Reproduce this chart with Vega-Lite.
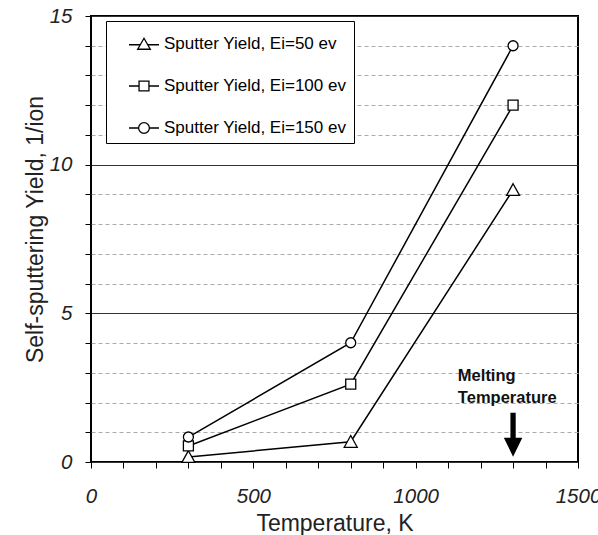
{
  "$schema": "https://vega.github.io/schema/vega-lite/v6.json",
  "width": 487,
  "height": 446,
  "autosize": "none",
  "padding": {"left": 91, "top": 16, "right": 20, "bottom": 73},
  "background": "white",
  "config": {
    "font": "Liberation Sans",
    "view": {"stroke": "black", "strokeWidth": 2},
    "axis": {
      "domain": false,
      "tickColor": "black",
      "tickSize": 6,
      "tickWidth": 1,
      "labelFont": "Liberation Sans",
      "labelFontStyle": "italic",
      "labelFontSize": 20.5,
      "labelColor": "#222",
      "titleFont": "Liberation Sans",
      "titleFontSize": 23,
      "titleFontWeight": "normal",
      "titleColor": "#222"
    }
  },
  "datasets": {
    "series": [
      {"T": 300, "Y": 0.17, "series": "Sputter Yield, Ei=50 ev"},
      {"T": 800, "Y": 0.68, "series": "Sputter Yield, Ei=50 ev"},
      {"T": 1300, "Y": 9.15, "series": "Sputter Yield, Ei=50 ev"},
      {"T": 300, "Y": 0.54, "series": "Sputter Yield, Ei=100 ev"},
      {"T": 800, "Y": 2.62, "series": "Sputter Yield, Ei=100 ev"},
      {"T": 1300, "Y": 12.0, "series": "Sputter Yield, Ei=100 ev"},
      {"T": 300, "Y": 0.84, "series": "Sputter Yield, Ei=150 ev"},
      {"T": 800, "Y": 4.01, "series": "Sputter Yield, Ei=150 ev"},
      {"T": 1300, "Y": 14.0, "series": "Sputter Yield, Ei=150 ev"}
    ],
    "notes": [
      {"T": 1130, "Y": 2.88, "label": "Melting"},
      {"T": 1130, "Y": 2.15, "label": "Temperature"}
    ],
    "arrow": [
      {"T": 1300, "Y": 0.92}
    ]
  },
  "encoding": {
    "x": {"field": "T", "type": "quantitative", "scale": {"domain": [0, 1500], "nice": false},
      "axis": {"title": "Temperature, K", "values": [0,100,200,300,400,500,600,700,800,900,1000,1100,1200,1300,1400,1500],
        "format": "d",
        "labelExpr": "datum.value % 500 === 0 ? datum.label : ''", "labelPadding": 18, "labelFlush": false, "labelOverlap": false,
        "titleY": 68, "titleBaseline": "alphabetic", "grid": false}},
    "y": {"field": "Y", "type": "quantitative", "scale": {"domain": [0, 15], "nice": false},
      "axis": {"title": "Self-sputtering Yield, 1/ion", "values": [0,1,2,3,4,5,6,7,8,9,10,11,12,13,14,15],
        "labelExpr": "datum.value % 5 === 0 ? datum.label : ''", "labelPadding": 13, "labelOverlap": false,
        "grid": true,
        "gridColor": {"condition": {"test": "datum.value % 5 === 0", "value": "#333"}, "value": "#aaa"},
        "gridDash": {"condition": {"test": "datum.value % 5 === 0", "value": []}, "value": [4, 3]},
        "gridWidth": 1,
        "titleAngle": 270, "titleX": -56, "titleY": 213, "titleAlign": "center", "titleBaseline": "middle"}}
  },
  "layer": [
    {
      "data": {"name": "series"},
      "mark": {"type": "line", "color": "black", "strokeWidth": 1.5},
      "encoding": {
        "detail": {"field": "series"}
      }
    },
    {
      "data": {"name": "series"},
      "transform": [{"filter": "false"}],
      "mark": {"type": "point", "filled": false, "color": "black", "strokeWidth": 1.3, "size": 900, "opacity": 1},
      "encoding": {
        "shape": {"field": "series", "type": "nominal",
          "scale": {"domain": ["Sputter Yield, Ei=50 ev", "Sputter Yield, Ei=100 ev", "Sputter Yield, Ei=150 ev"],
            "range": [
              "M-1,0.05L-0.25,0.05M0.25,0.05L1,0.05M0,-0.38L0.42,0.35L-0.42,0.35Z",
              "M-1,0L-0.33,0M0.33,0L1,0M-0.33,-0.33L0.33,-0.33L0.33,0.33L-0.33,0.33Z",
              "M-1,0L-0.36,0M0.36,0L1,0M0.36,0A0.36,0.36 0 1 1 -0.36,0A0.36,0.36 0 1 1 0.36,0Z"
            ]},
          "legend": {
            "title": null,
            "orient": "none",
            "legendX": 15,
            "legendY": 5,
            "direction": "vertical",
            "strokeColor": "black",
            "fillColor": "white",
            "padding": 7,
            "rowPadding": 18,
            "symbolSize": 900,
            "symbolOffset": 15,
            "symbolStrokeColor": "black",
            "symbolStrokeWidth": 1.3,
            "labelFont": "Liberation Sans",
            "labelFontSize": 17,
            "labelColor": "black",
            "labelOffset": 4,
            "labelLimit": 300
          }
        }
      }
    },
    {
      "data": {"name": "series"},
      "mark": {"type": "point", "filled": true, "fill": "white", "stroke": "black", "strokeWidth": 1.3, "size": 100, "opacity": 1},
      "encoding": {
        "shape": {"field": "series", "type": "nominal",
          "scale": {"domain": ["Sputter Yield, Ei=50 ev", "Sputter Yield, Ei=100 ev", "Sputter Yield, Ei=150 ev"],
            "range": ["M0,-1.25L1.3,1.1L-1.3,1.1Z", "square", "circle"]},
          "legend": null
        }
      }
    },
    {
      "data": {"name": "notes"},
      "mark": {"type": "text", "align": "left", "baseline": "middle", "font": "Liberation Sans", "fontSize": 16.5, "fontWeight": "bold", "color": "#111"},
      "encoding": {
        "text": {"field": "label"}
      }
    },
    {
      "data": {"name": "arrow"},
      "mark": {"type": "point", "filled": true, "color": "black", "opacity": 1, "size": 1936,
        "shape": "M-0.12,-1L0.12,-1L0.12,0.14L0.42,0.14L0,1L-0.42,0.14L-0.12,0.14Z"}
    }
  ],
  "resolve": {"scale": {"shape": "independent"}}
}
